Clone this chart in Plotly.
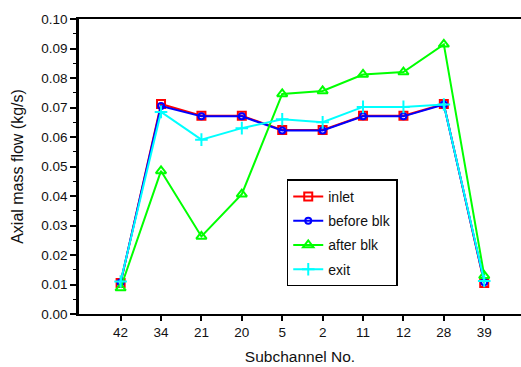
import plotly.graph_objects as go

categories = ["42", "34", "21", "20", "5", "2", "11", "12", "28", "39"]
inlet = [0.0105, 0.0712, 0.0672, 0.0672, 0.0624, 0.0624, 0.0672, 0.0672, 0.0712, 0.0105]
before_blk = [0.0107, 0.0705, 0.0670, 0.0670, 0.0622, 0.0622, 0.0670, 0.0670, 0.0710, 0.0108]
after_blk = [0.0088, 0.0485, 0.0263, 0.0406, 0.0746, 0.0756, 0.0812, 0.0820, 0.0914, 0.0130]
exit_flow = [0.0110, 0.0685, 0.0591, 0.0630, 0.0660, 0.0650, 0.0702, 0.0702, 0.0710, 0.0112]

series = [
    ("inlet", inlet, "#FF0000", "square-open", 8),
    ("before blk", before_blk, "#0000FF", "circle-open", 6),
    ("after blk", after_blk, "#00FF00", "triangle-up-open", 9),
    ("exit", exit_flow, "#00FFFF", "cross-thin-open", 9),
]

fig = go.Figure()
for i, (name, vals, color, sym, sz) in enumerate(series):
    fig.add_trace(go.Scatter(
        x=categories, y=vals, name=name, mode="lines+markers",
        line=dict(color=color, width=2),
        marker=dict(symbol=sym, size=sz, color=color, line=dict(color=color, width=2)),
        legendgroup=f"g{i}",
    ))

font_family = "Arial, Liberation Sans, sans-serif"
fig.update_layout(
    width=521, height=367,
    margin=dict(l=79, r=0, t=19, b=53),
    plot_bgcolor="white", paper_bgcolor="white",
    font=dict(family=font_family, size=13.5, color="#111"),
    showlegend=True,
    legend=dict(
        x=0.47, y=0.456, xanchor="left", yanchor="top",
        bordercolor="black", borderwidth=1.5, bgcolor="white",
        font=dict(size=14), tracegroupgap=3,
    ),
    xaxis=dict(
        type="category", range=[-1.03, 9.91], automargin=False,
        showgrid=False, zeroline=False,
        showline=True, linecolor="black", linewidth=2, mirror=True,
        ticks="outside", ticklen=5, tickwidth=1.5, tickcolor="black",
        title=dict(text="Subchannel No.", standoff=12, font=dict(size=15.5)),
    ),
    yaxis=dict(
        range=[0, 0.10], dtick=0.01, tickformat=".2f", automargin=False,
        showgrid=False, zeroline=False,
        showline=True, linecolor="black", linewidth=2.5,
        ticks="outside", ticklen=6, tickwidth=1.5, tickcolor="black",
        minor=dict(dtick=0.005, ticks="outside", ticklen=3, tickwidth=1.2, tickcolor="black"),
        title=dict(text="Axial mass flow (kg/s)", standoff=14, font=dict(size=16)),
    ),
)

fig.write_html("out.html", config={"displayModeBar": False},
               post_script="document.body.style.margin='0';")
